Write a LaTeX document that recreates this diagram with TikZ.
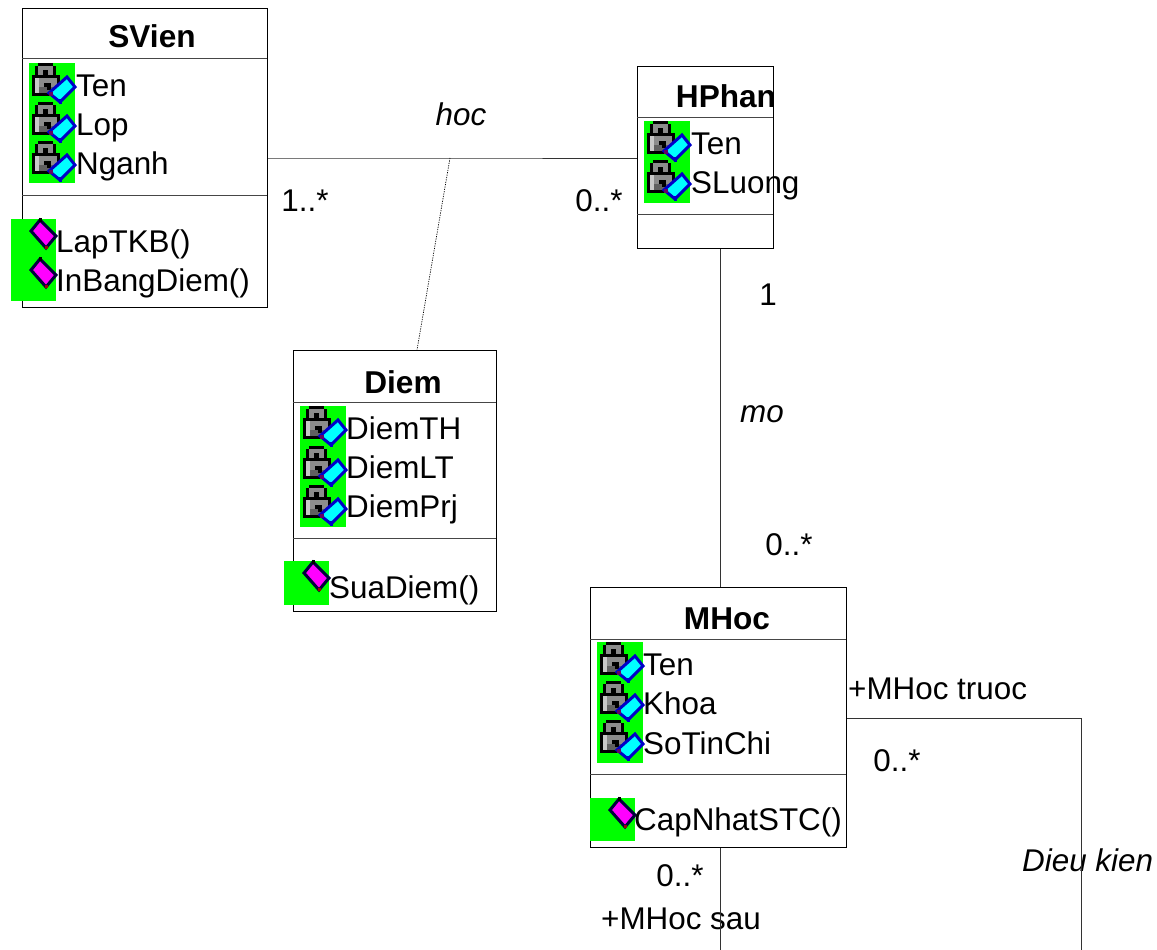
\documentclass[tikz,border=0pt]{standalone}
\usepackage{fontspec}
\setmainfont{Liberation Sans}
\usetikzlibrary{calc}
\definecolor{icongreen}{RGB}{0,255,0}
\definecolor{iconcyan}{RGB}{0,255,255}
\definecolor{iconblue}{RGB}{0,0,200}
\definecolor{iconmag}{RGB}{255,0,255}
\definecolor{icondark}{RGB}{96,96,96}
\definecolor{iconmid}{RGB}{140,140,140}
\definecolor{iconlight}{RGB}{200,200,200}
\definecolor{linegrey}{RGB}{70,70,70}
\tikzset{
  classbox/.style={draw=black,line width=0.9pt,fill=none,inner sep=0pt,anchor=north west},
  member/.style={anchor=base west,inner sep=0pt,font=\fontsize{31.4}{34}\selectfont,text=black},
  classtitle/.style={anchor=base,inner sep=0pt,font=\fontsize{31.6}{34}\selectfont\bfseries,text=black},
  plainlabel/.style={anchor=base,inner sep=0pt,font=\fontsize{31.4}{34}\selectfont,text=black},
  itlabel/.style={anchor=base,inner sep=0pt,font=\fontsize{31.4}{34}\selectfont\itshape,text=black},
  itleft/.style={anchor=base west,inner sep=0pt,font=\fontsize{31.4}{34}\selectfont\itshape,text=black},
  divider/.style={draw=linegrey,line width=0.9pt},
  assoc/.style={draw=black!80,line width=0.9pt},
  dep/.style={draw=black,line width=0.7pt,dash pattern=on 1.2pt off 1.2pt},
  lockicon/.pic={
    % shackle
    \fill[black] (9,0) rectangle (24,3);
    \fill[black] (6,3) rectangle (27,12);
    \fill[iconmid] (9,3) rectangle (24,7);
    \fill[iconmid] (9,7) rectangle (14,12);
    \fill[iconmid] (19,7) rectangle (24,12);
    \fill[black] (14,7) rectangle (19,12);
    % body
    \fill[black] (3,12) rectangle (31,33);
    \fill[iconmid] (6,15) rectangle (28,30);
    \fill[iconlight] (6,15) rectangle (10,30);
    \fill[icondark] (10,24) rectangle (28,30);
    \fill[black] (15,20) rectangle (22,24);
    \fill[black] (18,24) rectangle (22,27);
    % key card
    \fill[iconcyan,draw=iconblue,line width=3pt,miter limit=3] (38,14) -- (46,24) -- (31,39) -- (20,30) -- cycle;
    \fill[black!60!iconmag] (20,29) rectangle (24,33);
    \fill[iconblue] (30,36) rectangle (33,41);
  },
  methodicon/.pic={
    \fill[iconmag,draw=black!70!iconblue,line width=3pt,miter limit=3] (29,1) -- (45,17) -- (35,29) -- (20,12) -- cycle;
    \fill[black] (27.5,-1) rectangle (30.5,3);
    \fill[black!40!red] (34,26.5) rectangle (37,30);
  }
}
\begin{document}
\begin{tikzpicture}[x=1pt,y=-1pt]
\useasboundingbox (0,0) rectangle (1157,950);

% class boxes
\node[classbox,minimum width=245pt,minimum height=299pt] (svien) at (22,8) {};
\node[classbox,minimum width=136pt,minimum height=182pt] (hphan) at (637,66) {};
\node[classbox,minimum width=203pt,minimum height=261pt] (diem) at (293,350) {};
\node[classbox,minimum width=256pt,minimum height=260pt] (mhoc) at (590,587) {};

% compartments
\draw[divider] (22,58) -- (267,58);
\draw[divider] (22,195) -- (267,195);
\draw[divider] (637,117) -- (773,117);
\draw[divider] (637,214) -- (773,214);
\draw[divider] (293,402) -- (496,402);
\draw[divider] (293,538) -- (496,538);
\draw[divider] (590,639) -- (846,639);
\draw[divider] (590,774) -- (846,774);

% titles
\node[classtitle] (tsvien) at (152,48) {SVien};
\node[classtitle] (thphan) at (726,107) {HPhan};
\node[classtitle] (tdiem) at (403,393) {Diem};
\node[classtitle] (tmhoc) at (727,629) {MHoc};

% icon backgrounds
\fill[icongreen] (29,63) rectangle (75,183);
\fill[icongreen] (11,219) rectangle (56,301);
\fill[icongreen] (644,121) rectangle (690,203);
\fill[icongreen] (300,406) rectangle (346,527);
\fill[icongreen] (284,561) rectangle (329,605);
\fill[icongreen] (597,642) rectangle (643,763);
\fill[icongreen] (590,798) rectangle (635,841);

% icons
\foreach \ix/\iy in {29/63,29/102,29/141,644/121,644/160,300/406,300/446,300/485,597/642,597/681,597/720}
  \pic at (\ix,\iy) {lockicon};
\foreach \ix/\iy in {11/219,11/258,284/561,590/798}
  \pic at (\ix,\iy) {methodicon};

% members
\node[member] (m1) at (76,96) {Ten};
\node[member] (m2) at (76,135) {Lop};
\node[member] (m3) at (76,174) {Nganh};
\node[member] (m4) at (56,252) {LapTKB()};
\node[member] (m5) at (56,291) {InBangDiem()};
\node[member] (m6) at (691,154) {Ten};
\node[member] (m7) at (691,193) {SLuong};
\node[member] (m8) at (346,439) {DiemTH};
\node[member] (m9) at (346,478) {DiemLT};
\node[member] (m10) at (346,517) {DiemPrj};
\node[member] (m11) at (329,598) {SuaDiem()};
\node[member] (m12) at (643,675) {Ten};
\node[member] (m13) at (643,714) {Khoa};
\node[member] (m14) at (643,754) {SoTinChi};
\node[member] (m15) at (634,830) {CapNhatSTC()};

% labels
\node[itlabel] (lhoc) at (461,125) {hoc};
\node[plainlabel] (l1) at (305,211) {1..*};
\node[plainlabel] (l2) at (599,211) {0..*};
\node[plainlabel] (l3) at (768,305) {1};
\node[itlabel] (lmo) at (762,422) {mo};
\node[plainlabel] (l4) at (789,555) {0..*};
\node[member] (l5) at (848,699) {+MHoc truoc};
\node[plainlabel] (l6) at (897,771) {0..*};
\node[itleft] (l7) at (1022,871) {Dieu kien};
\node[plainlabel] (l8) at (680,886) {0..*};
\node[plainlabel] (l9) at (681,929) {+MHoc sau};

% connectors
\coordinate (hocpt) at (450,158);
\coordinate (mox) at (720,0);
\coordinate (dieminc) at (417,350);
\coordinate (loopcorner) at (1081,718);
\coordinate (loopend) at (1081,950);
\coordinate (sauend) at (720,950);
\draw[assoc] (svien.east |- hocpt) -- (hocpt) -- (hphan.west |- hocpt);
\draw[dep] (hocpt) -- (dieminc);
\draw[assoc] (hphan.south -| mox) -- (mhoc.north -| mox);
\draw[assoc] (mhoc.east |- loopcorner) -- (loopcorner) -- (loopend);
\draw[assoc] (mhoc.south -| mox) -- (sauend);
\end{tikzpicture}
\end{document}
